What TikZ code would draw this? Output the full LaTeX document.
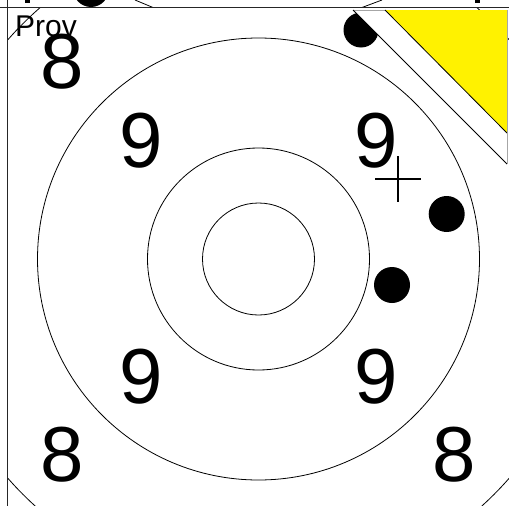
\documentclass[tikz,border=0pt]{standalone}
\usepackage{fontspec}
\setmainfont{Liberation Sans}
\begin{document}
\begin{tikzpicture}[x=1pt,y=-1pt,
  ring/.style={draw=black,line width=0.8pt},
  digit/.style={font=\fontsize{78}{78}\selectfont,inner sep=0pt,anchor=center},
  shot/.style={fill=black}]
\useasboundingbox (0,0) rectangle (509,506);
\fill[white] (0,0) rectangle (509,506);
% target rings
\coordinate (c) at (258.5,259);
\begin{scope}
  \clip (8,8) rectangle (509,506);
  \draw[ring] (c) circle[radius=56];
  \draw[ring] (c) circle[radius=111];
  \draw[ring] (c) circle[radius=221];
  \draw[ring] (c) circle[radius=333];
  \fill[shot] (361,30) circle[radius=17.5];
\end{scope}
% shots
\fill[shot] (446.7,214) circle[radius=18];
\fill[shot] (392,285) circle[radius=18];
% cross
\draw[line width=1.2pt] (375,179) -- (421,179) (398,156) -- (398,202);
% white band and yellow corner
\fill[white] (353,10) -- (507,10) -- (507,164) -- cycle;
\draw[gray!70,line width=0.8pt] (353,10) -- (507,10);
\draw[line width=0.8pt] (353,10) -- (507,164);
\fill[yellow] (385,10) -- (507,10) -- (507,133) -- cycle;
\draw[line width=0.8pt] (385,10) -- (507,133);
\draw[gray!70,line width=0.8pt] (507,10) -- (507,164);
% numbers
\node[digit] (n8a) at (62,61.5) {8};
\node[digit] (n8b) at (62,455) {8};
\node[digit] (n8c) at (454,455) {8};
\node[digit] (n9a) at (141.3,141) {9};
\node[digit] (n9b) at (376.3,141) {9};
\node[digit] (n9c) at (141.3,377) {9};
\node[digit] (n9d) at (376.3,377) {9};
\node[font=\fontsize{30}{30}\selectfont,inner sep=0pt,anchor=base west] (prov) at (15,36.7) {Prov};
% top strip
\begin{scope}
  \clip (0,0) rectangle (509,7.5);
  \fill[shot] (91,-11) circle[radius=18];
\end{scope}
\fill[shot] (25,0) rectangle (30,3);
\fill[shot] (475,0) rectangle (480,3);
\draw[line width=0.8pt] (135,0) -- (153,7.5);
\draw[line width=0.8pt] (382,0) -- (362,7.5);
\draw[black!85,line width=1.6pt] (0,7.5) -- (509,7.5);
\draw[black!85,line width=1.2pt] (7.5,0) -- (7.5,506);
\end{tikzpicture}
\end{document}
